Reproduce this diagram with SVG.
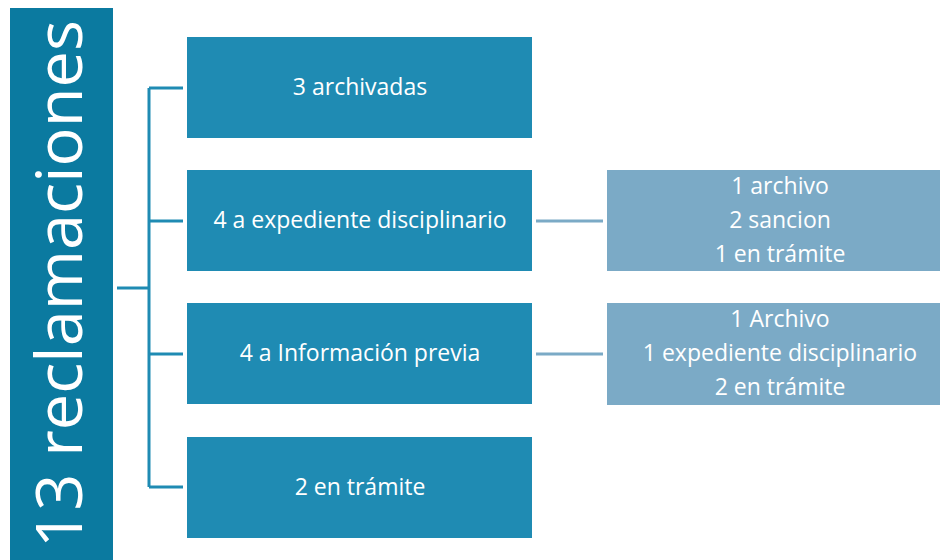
<svg xmlns="http://www.w3.org/2000/svg" width="940" height="560" viewBox="0 0 940 560">
<style>
.main{fill:#1F8BB3}
.sub{fill:#7BAAC6}
.t{fill:#fff;font-family:"Open Sans","DejaVu Sans",sans-serif;font-size:23px;text-anchor:middle;dominant-baseline:central}
.c1{stroke:#1F8BB3;stroke-width:3;fill:none}
.c2{stroke:#7BAAC6;stroke-width:3;fill:none}
</style>
<rect width="940" height="560" fill="#fff"/>
<g id="root">
<rect x="10" y="8" width="103" height="552" fill="#0B7AA0"/>
<text transform="translate(57,284) rotate(-90)" fill="#fff" font-family="'Open Sans','DejaVu Sans',sans-serif" font-size="64" text-anchor="middle" dominant-baseline="central" textLength="528" lengthAdjust="spacingAndGlyphs">13 reclamaciones</text>
</g>
<g id="connectors">
<path class="c1" d="M117 288H149M149 88V487M149 88H183M149 221H183M149 354H183M149 487H183"/>
<path class="c2" d="M536 221H603M536 354H603"/>
</g>
<g id="n1"><rect class="main" x="187" y="37" width="345" height="101"/><text class="t" x="360" y="86">3 archivadas</text></g>
<g id="n2"><rect class="main" x="187" y="170" width="345" height="101"/><text class="t" x="360" y="219">4 a expediente disciplinario</text></g>
<g id="n3"><rect class="main" x="187" y="303" width="345" height="101"/><text class="t" x="360" y="352">4 a Información previa</text></g>
<g id="n4"><rect class="main" x="187" y="437" width="345" height="101"/><text class="t" x="360" y="486">2 en trámite</text></g>
<g id="n5"><rect class="sub" x="607" y="170" width="340" height="101"/>
<text class="t" x="780" y="185">1 archivo</text><text class="t" x="780" y="219">2 sancion</text><text class="t" x="780" y="253">1 en trámite</text></g>
<g id="n6"><rect class="sub" x="607" y="303" width="340" height="102"/>
<text class="t" x="780" y="318">1 Archivo</text><text class="t" x="780" y="352">1 expediente disciplinario</text><text class="t" x="780" y="386">2 en trámite</text></g>
</svg>
